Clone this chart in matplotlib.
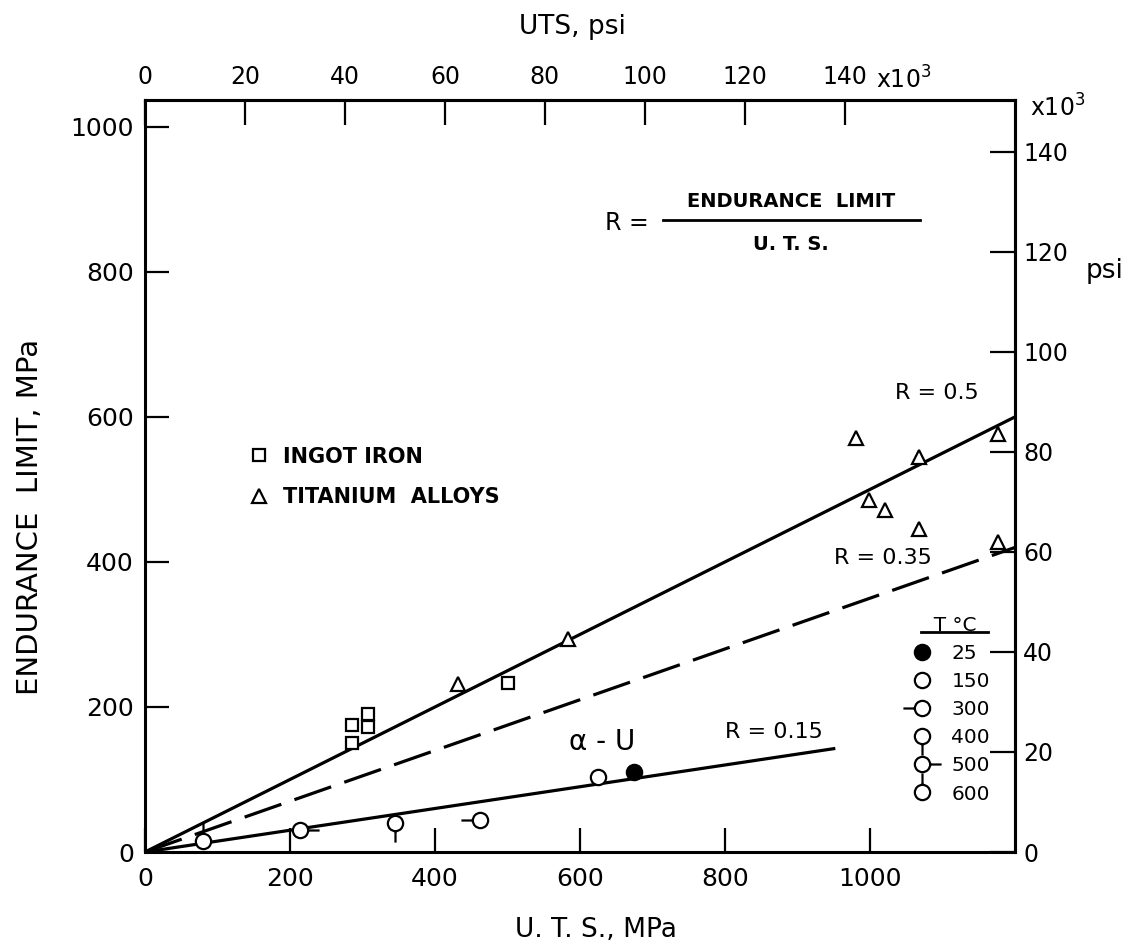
import matplotlib
matplotlib.use('Agg')
import matplotlib.pyplot as plt
from matplotlib.lines import Line2D
from matplotlib.path import Path

# Ingot iron, MPa
iron_uts = [286, 286, 308, 308, 500]
iron_el = [150, 175, 173, 190, 233]

# Titanium alloys, MPa
ti_uts = [432, 583, 981, 998, 1021, 1067, 1067, 1176, 1176]
ti_el = [232, 294, 571, 486, 472, 545, 445, 577, 428]

# alpha-U at several test temperatures
alu_uts = [80, 214, 345, 462, 625, 674]
alu_el = [15, 31, 40, 44, 103, 110]
alu_temp = [600, 500, 400, 300, 150, 25]

legend_temps = [25, 150, 300, 400, 500, 600]

# R = endurance limit / UTS reference lines
ratios = [0.5, 0.35, 0.15]
ratio_ends = [1200, 1200, 950]
ratio_styles = ['-', 'dash', '-']

mpa_ticks = [0, 200, 400, 600, 800, 1000]
ksi_ticks = [0, 20, 40, 60, 80, 100, 120, 140]
MPA_PER_KSI = 6.895

plt.rcParams['font.family'] = ['DejaVu Sans']
plt.rcParams['lines.scale_dashes'] = False


def circle_with_stem(dx, dy, length=1.5):
    '''Open circle with a short stub sticking out in direction (dx, dy).'''
    circle = Path.unit_circle()
    verts = list(circle.vertices) + [(dx, dy), (dx * (1 + length), dy * (1 + length))]
    codes = list(circle.codes) + [Path.MOVETO, Path.LINETO]
    return Path(verts, codes)


CIRCLE_MS = 11
STEM_MS = CIRCLE_MS * 2.5
temp_styles = {
    25: dict(marker='o', ms=CIRCLE_MS, mfc='black'),
    150: dict(marker='o', ms=CIRCLE_MS, mfc='white'),
    300: dict(marker=circle_with_stem(-1, 0), ms=STEM_MS, mfc='white'),
    400: dict(marker=circle_with_stem(0, -1), ms=STEM_MS, mfc='white'),
    500: dict(marker=circle_with_stem(1, 0), ms=STEM_MS, mfc='white'),
    600: dict(marker=circle_with_stem(0, 1), ms=STEM_MS, mfc='white'),
}

fig = plt.figure(figsize=(11.45, 9.47), dpi=100)
ax = fig.add_axes([145 / 1145, 1 - 852 / 947, 870 / 1145, 752 / 947])
ax.set_xlim(0, 1200)
ax.set_ylim(0, 1037)

for r, end, style in zip(ratios, ratio_ends, ratio_styles):
    line, = ax.plot([0, end], [0, r * end], color='black', lw=2.3, zorder=2)
    if style == 'dash':
        line.set_dashes((28, 10))

ax.plot(iron_uts, iron_el, 's', ms=8.5, mfc='white', mec='black', mew=1.6,
        ls='none', zorder=3)
ax.plot(ti_uts, ti_el, '^', ms=9.5, mfc='white', mec='black', mew=1.6,
        ls='none', zorder=3)
for x, y, t in zip(alu_uts, alu_el, alu_temp):
    ax.plot([x], [y], ls='none', mec='black', mew=1.6, zorder=4,
            **temp_styles[t])

# line labels
ax.text(1092, 633, 'R = 0.5', fontsize=16, ha='center', va='center')
ax.text(1085, 405, 'R = 0.35', fontsize=16, ha='right', va='center')
ax.text(800, 166, 'R = 0.15', fontsize=16, ha='left', va='center')
ax.text(631, 152, 'α - U', fontsize=20, ha='center', va='center')

# ratio definition
ax.text(665, 868, 'R =', fontsize=17, ha='center', va='center')
frac_x = [714, 1069]
frac_y = [872, 872]
ax.plot(frac_x, frac_y, color='black', lw=2)
ax.text(891, 897, 'ENDURANCE  LIMIT', fontsize=14, fontweight='bold',
        ha='center', va='center')
ax.text(891, 838, 'U. T. S.', fontsize=14, fontweight='bold',
        ha='center', va='center')

# material legend
mat_handles = [
    Line2D([], [], marker='s', ms=8.5, mfc='white', mec='black', mew=1.6, ls='none'),
    Line2D([], [], marker='^', ms=9.5, mfc='white', mec='black', mew=1.6, ls='none'),
]
mat_leg = ax.legend(mat_handles, ['INGOT IRON', 'TITANIUM  ALLOYS'],
                    loc='upper left', bbox_to_anchor=(0.1076, 0.553),
                    frameon=False, borderpad=0, handlelength=1,
                    handletextpad=0.65, labelspacing=1.0,
                    prop={'size': 15, 'weight': 'bold'})
ax.add_artist(mat_leg)

# temperature legend
temp_handles = [Line2D([], [], ls='none', mec='black', mew=1.6, **temp_styles[t])
                for t in legend_temps]
ax.legend(temp_handles, [str(t) for t in legend_temps], title='  T °C',
          loc='upper left', bbox_to_anchor=(0.864, 0.327), frameon=False,
          borderpad=0, handlelength=1.5, handletextpad=0.72,
          labelspacing=0.45, fontsize=14.5, title_fontsize=14.5)
ax.plot([0.8916, 0.969], [0.293, 0.293], color='black', lw=2,
        transform=ax.transAxes, clip_on=False)

# axes, ticks
for side in ['left', 'right', 'top', 'bottom']:
    ax.spines[side].set_linewidth(2.2)
ax.set_xticks(mpa_ticks)
ax.set_yticks(mpa_ticks)
ax.tick_params(direction='in', length=17, width=1.6, labelsize=18, pad=8)
ax.tick_params(axis='x', pad=11)

top = ax.secondary_xaxis('top', functions=(lambda v: v / MPA_PER_KSI,
                                            lambda v: v * MPA_PER_KSI))
top.set_xticks(ksi_ticks)
top.tick_params(direction='in', length=18, width=1.6, labelsize=17, pad=8)
top.spines['top'].set_linewidth(2.2)

right = ax.secondary_yaxis('right', functions=(lambda v: v / MPA_PER_KSI,
                                                lambda v: v * MPA_PER_KSI))
right.set_yticks(ksi_ticks)
right.tick_params(direction='in', length=18, width=1.6, labelsize=17, pad=6)
right.spines['right'].set_linewidth(2.2)

fig.text(876 / 1145, 1 - 80 / 947, 'x10$^3$', fontsize=17, ha='left', va='center')
fig.text(1030 / 1145, 1 - 108 / 947, 'x10$^3$', fontsize=17, ha='left', va='center')
fig.text(1105 / 1145, 1 - 271 / 947, 'psi', fontsize=19, ha='center', va='center')

fig.text(30 / 1145, 1 - 517 / 947, 'ENDURANCE  LIMIT, MPa', fontsize=21,
         rotation=90, ha='center', va='center')
fig.text(596 / 1145, 1 - 930 / 947, 'U. T. S., MPa', fontsize=19,
         ha='center', va='center')
fig.text(572 / 1145, 1 - 27 / 947, 'UTS, psi', fontsize=19,
         ha='center', va='center')

fig.savefig('out.png', dpi=100)
